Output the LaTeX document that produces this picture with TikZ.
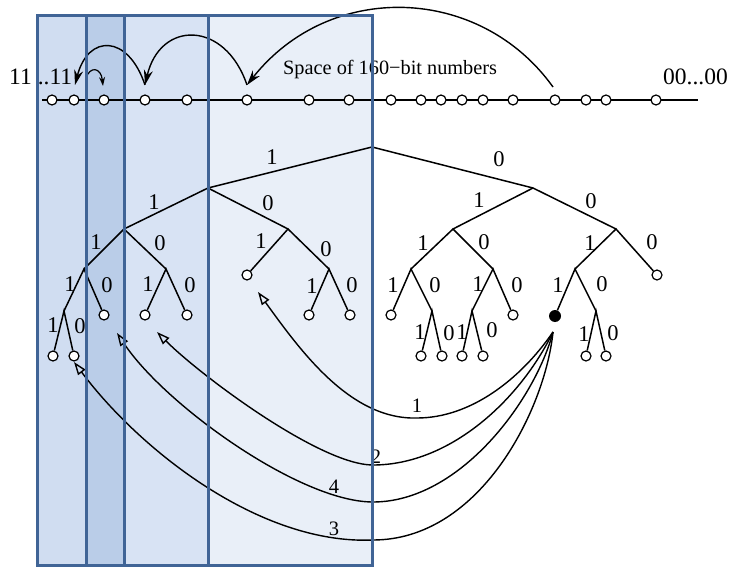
\documentclass[tikz,border=0pt]{standalone}
\usepackage{fontspec}
\setmainfont{Liberation Serif}
\usetikzlibrary{arrows.meta}
\definecolor{bord}{RGB}{64,100,150}
\definecolor{colA}{RGB}{208,221,241}
\definecolor{colB}{RGB}{186,205,232}
\definecolor{colC}{RGB}{216,227,244}
\definecolor{colD}{RGB}{233,239,248}
\begin{document}
\begin{tikzpicture}[x=1pt,y=-1pt,
  lbl/.style={inner sep=0pt,font=\fontsize{22.5}{26}\selectfont},
  blbl/.style={inner sep=0pt,font=\fontsize{20.5}{24}\selectfont},
  leaf/.style={circle,draw,fill=white,inner sep=0pt,minimum size=10pt,line width=1.2pt},
  edge/.style={line width=1.5pt},
  hop/.style={line width=1.4pt,-{Stealth[length=15pt,width=9pt]}},
  smallhop/.style={line width=1.2pt,-{Stealth[length=9pt,width=6pt]}},
  back/.style={line width=1.4pt,-{Triangle[open,length=13pt,width=9pt]}},
  border/.style={draw=bord,line width=3pt},
]
\useasboundingbox (0,0) rectangle (734,567);
\fill[white] (0,0) rectangle (734,567);
% column fills
\fill[colA] (37,16) rectangle (86,565);
\fill[colB] (86,16) rectangle (124,565);
\fill[colC] (124,16) rectangle (208,565);
\fill[colD] (208,16) rectangle (372,565);

% texts at top
\node[anchor=base west,inner sep=0pt,font=\fontsize{23.5}{27}\selectfont] (hi) at (9,85) {11\kern6pt..11};
\node[anchor=base west,inner sep=0pt,font=\fontsize{23.5}{27}\selectfont] (lo) at (663,85) {00...00};
\node[anchor=base west,inner sep=0pt,font=\fontsize{20.3}{24}\selectfont] (space) at (283,75) {Space of 160−bit numbers};

% number line
\coordinate (lineL) at (42,100);
\coordinate (lineR) at (698,100);
\draw[line width=1.8pt] (lineL) -- (lineR);
\foreach \x [count=\i] in {52,74,104,145,187,247,309,349,391,421,441,462,483,513,555,586,606,656}
  \node[leaf] (p\i) at (\x,100) {};

% top hop arrows
\coordinate (s1) at (553,87);
\coordinate (t1) at (247,85);
\coordinate (t2) at (145,85);
\coordinate (t3) at (75,85);
\coordinate (s4) at (86,78);
\coordinate (t4) at (103,86);
\draw[hop] (s1) .. controls (480,-15) and (330,-20) .. (t1);
\draw[hop] (t1) .. controls (225,20) and (160,20) .. (t2);
\draw[hop] (t2) .. controls (128,34) and (88,34) .. (t3);
\draw[smallhop] (s4) .. controls (90,66) and (101,67) .. (t4);

% tree internal nodes
\coordinate (r) at (372,147);
\coordinate (n1) at (208,188);
\coordinate (n0) at (533,188);
\coordinate (n11) at (124,229);
\coordinate (n10) at (288,229);
\coordinate (n01) at (453,229);
\coordinate (n00) at (616,229);
\coordinate (n111) at (84,269);
\coordinate (n110) at (166,269);
\coordinate (n100) at (329,269);
\coordinate (n011) at (411,269);
\coordinate (n010) at (493,269);
\coordinate (n001) at (575,269);
\coordinate (n1111) at (64,311);
\coordinate (n0110) at (432,311);
\coordinate (n0101) at (472,311);
\coordinate (n0010) at (596,311);
% leaves
\node[leaf] (n101) at (247,275) {};
\node[leaf] (n000) at (657,275) {};
\node[leaf] (n1110) at (104,315) {};
\node[leaf] (n1101) at (145,315) {};
\node[leaf] (n1100) at (187,315) {};
\node[leaf] (n1001) at (309,315) {};
\node[leaf] (n1000) at (350,315) {};
\node[leaf] (n0111) at (391,315) {};
\node[leaf] (n0100) at (513,315) {};
\node[circle,fill=black,inner sep=0pt,minimum size=12pt] (n0011) at (555,316) {};
\node[leaf] (n11111) at (53,356) {};
\node[leaf] (n11110) at (74,356) {};
\node[leaf] (n01101) at (421,356) {};
\node[leaf] (n01100) at (442,356) {};
\node[leaf] (n01011) at (462,356) {};
\node[leaf] (n01010) at (483,356) {};
\node[leaf] (n00101) at (586,356) {};
\node[leaf] (n00100) at (606,356) {};

% tree edges
\draw[edge] (n1) -- (r) -- (n0);
\draw[edge] (n11) -- (n1) -- (n10);
\draw[edge] (n01) -- (n0) -- (n00);
\draw[edge] (n111) -- (n11) -- (n110);
\draw[edge] (n101) -- (n10) -- (n100);
\draw[edge] (n011) -- (n01) -- (n010);
\draw[edge] (n001) -- (n00) -- (n000);
\draw[edge] (n1111) -- (n111) -- (n1110);
\draw[edge] (n1101) -- (n110) -- (n1100);
\draw[edge] (n1001) -- (n100) -- (n1000);
\draw[edge] (n0111) -- (n011) -- (n0110);
\draw[edge] (n0101) -- (n010) -- (n0100);
\draw[edge] (n0011) -- (n001) -- (n0010);
\draw[edge] (n11111) -- (n1111) -- (n11110);
\draw[edge] (n01101) -- (n0110) -- (n01100);
\draw[edge] (n01011) -- (n0101) -- (n01010);
\draw[edge] (n00101) -- (n0010) -- (n00100);

% edge labels
\node[lbl] (e1) at (272,157) {1};
\node[lbl] (e2) at (499,159) {0};
\node[lbl] (e3) at (154,202) {1};
\node[lbl] (e4) at (268,203) {0};
\node[lbl] (e5) at (479,200) {1};
\node[lbl] (e6) at (591,201) {0};
\node[lbl] (e7) at (96,242) {1};
\node[lbl] (e8) at (160,243) {0};
\node[lbl] (e9) at (261,241) {1};
\node[lbl] (e10) at (326,249) {0};
\node[lbl] (e11) at (423,243) {1};
\node[lbl] (e12) at (484,242) {0};
\node[lbl] (e13) at (590,243) {1};
\node[lbl] (e14) at (652,242) {0};
\node[lbl] (e15) at (70,284) {1};
\node[lbl] (e16) at (107,285) {0};
\node[lbl] (e17) at (148,284) {1};
\node[lbl] (e18) at (190,285) {0};
\node[lbl] (e19) at (312,286) {1};
\node[lbl] (e20) at (352,285) {0};
\node[lbl] (e21) at (393,285) {1};
\node[lbl] (e22) at (435,285) {0};
\node[lbl] (e23) at (478,284) {1};
\node[lbl] (e24) at (517,285) {0};
\node[lbl] (e25) at (558,285) {1};
\node[lbl] (e26) at (602,284) {0};
\node[lbl] (e27) at (53,325) {1};
\node[lbl] (e28) at (80,326) {0};
\node[lbl] (e29) at (420,332) {1};
\node[lbl] (e30) at (449,333) {0};
\node[lbl] (e31) at (462,332) {1};
\node[lbl] (e32) at (492,330) {0};
\node[lbl] (e33) at (584,334) {1};
\node[lbl] (e34) at (613,333) {0};

% back arrows from the filled node
\coordinate (fan) at (553,332);
\coordinate (b1) at (258,292);
\coordinate (b2) at (157,332);
\coordinate (b4) at (117,333);
\coordinate (b3) at (74,362);
\draw[back] (fan) .. controls (520,380) and (470,418) .. (417,418) .. controls (350,420) and (300,350) .. (b1);
\draw[back] (fan) .. controls (520,400) and (450,465) .. (373,465) .. controls (320,465) and (200,375) .. (b2);
\draw[back] (fan) .. controls (535,400) and (460,502) .. (373,502) .. controls (300,502) and (165,405) .. (b4);
\draw[back] (fan) .. controls (545,410) and (480,540) .. (373,540) .. controls (260,545) and (140,450) .. (b3);
\node[blbl] (w1) at (417,406) {1};
\node[blbl] (w2) at (376,457) {2};
\node[blbl] (w4) at (334,487) {4};
\node[blbl] (w3) at (334,529) {3};

% borders on top
\draw[border] (37,16) rectangle (372,565);
\draw[border] (86,16) -- (86,565);
\draw[border] (124,16) -- (124,565);
\draw[border] (208,16) -- (208,565);
\end{tikzpicture}
\end{document}
